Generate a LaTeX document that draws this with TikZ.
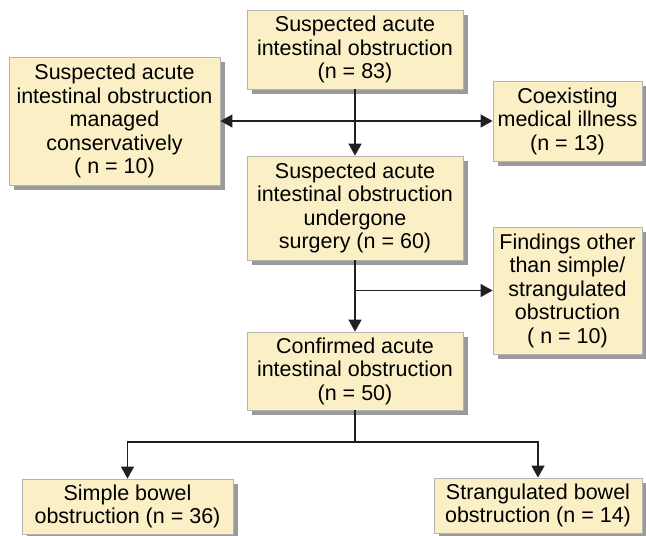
\documentclass[tikz,border=0pt]{standalone}
\usepackage{fontspec}
\setmainfont{Liberation Sans}
\usetikzlibrary{arrows.meta,shadows}
\definecolor{boxfill}{HTML}{FBEFC6}
\definecolor{boxline}{HTML}{B4B4B4}
\definecolor{shadowc}{HTML}{9A9A9A}
\definecolor{linec}{HTML}{202020}
\begin{document}
\begin{tikzpicture}[x=1pt,y=-1pt,
  fbox/.style={draw=boxline, line width=0.8pt, fill=boxfill, align=center,
    inner sep=0pt, font=\fontsize{21.5}{23.5}\selectfont,
    drop shadow={shadow xshift=5pt, shadow yshift=-5pt, fill=shadowc, opacity=1}},
  conn/.style={draw=linec, line width=1.3pt},
  arr/.style={conn, -{Triangle[length=12pt,width=13pt]}},
  darr/.style={conn, {Triangle[length=12pt,width=13pt]}-{Triangle[length=12pt,width=13pt]}}]
\useasboundingbox (0,0) rectangle (646,536);
\node[fbox, minimum width=216pt, minimum height=79pt] (b1) at (355,49.5)
  {Suspected acute\\intestinal obstruction\\(n = 83)};
\node[fbox, minimum width=211pt, minimum height=128pt] (b2) at (114.5,121)
  {Suspected acute\\intestinal obstruction\\managed\\conservatively\\( n = 10)};
\node[fbox, minimum width=149pt, minimum height=80pt] (b3) at (567.5,121)
  {Coexisting\\medical illness\\(n = 13)};
\node[fbox, minimum width=216pt, minimum height=104pt] (b4) at (355,208)
  {Suspected acute\\intestinal obstruction\\undergone\\surgery (n = 60)};
\node[fbox, minimum width=149pt, minimum height=127pt] (b5) at (567.5,290.5)
  {Findings other\\than simple/\\strangulated\\obstruction\\( n = 10)};
\node[fbox, minimum width=216pt, minimum height=78pt] (b6) at (355,371)
  {Confirmed acute\\intestinal obstruction\\(n = 50)};
\node[fbox, minimum width=211pt, minimum height=55pt] (b7) at (127.5,506.5)
  {Simple bowel\\obstruction (n = 36)};
\node[fbox, minimum width=208pt, minimum height=55pt] (b8) at (538,505.5)
  {Strangulated bowel\\obstruction (n = 14)};
\coordinate (j) at (355,442);
\draw[arr] (b1.south) -- (b4.north);
\draw[darr] (b2.east) -- (b3.west);
\draw[arr] (b4.south) -- (b6.north);
\draw[arr] (b4.south |- b5.west) -- (b5.west);
\draw[conn] (b6.south) -- (j);
\draw[arr] (j) -| (b7.north);
\draw[arr] (j) -| (b8.north);
\end{tikzpicture}
\end{document}
